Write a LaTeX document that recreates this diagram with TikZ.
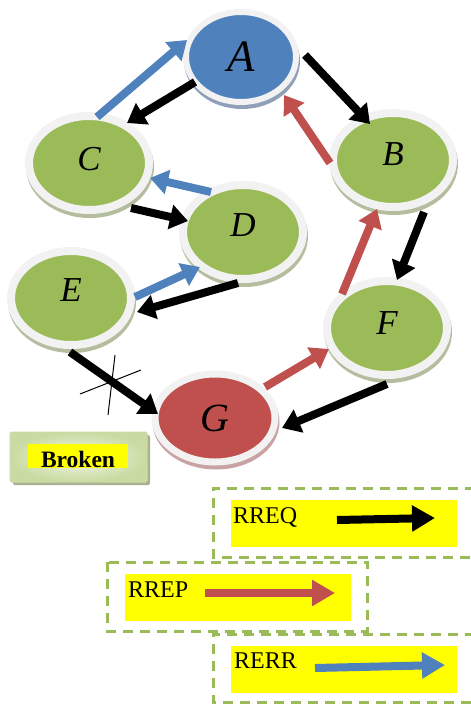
\documentclass[tikz,border=0pt]{standalone}
\usepackage{fontspec}
\setmainfont{Liberation Serif}
\usetikzlibrary{arrows.meta,shapes.geometric,shadows}
\definecolor{nblue}{HTML}{4F81BD}
\definecolor{ngreen}{HTML}{9BBB59}
\definecolor{nred}{HTML}{C0504D}
\definecolor{ring}{HTML}{F2F2F2}
\definecolor{shgreen}{HTML}{B4BE9E}
\definecolor{shblue}{HTML}{8FA0B8}
\definecolor{shred}{HTML}{C9A3A3}
\definecolor{dashgreen}{HTML}{9BBB59}
\definecolor{brokouter}{HTML}{C9DBA2}
\definecolor{brokinner}{HTML}{F3F7EA}
\definecolor{brokshadow}{HTML}{A9B192}
\definecolor{legyellow}{HTML}{FFFF00}
\begin{document}
\begin{tikzpicture}[x=1pt,y=-1pt,
  netnode/.style={ellipse, draw=ring, line width=8pt, inner sep=0pt,
    minimum width=120pt, minimum height=94pt,
    font=\fontsize{35}{35}\selectfont\itshape},
  greennode/.style={netnode, fill=ngreen,
    drop shadow={shadow xshift=1pt, shadow yshift=-4pt, fill=shgreen, draw=shgreen, line width=8pt, opacity=1}},
  conn/.style={line width=8pt, -{Triangle[length=18pt,width=24pt]}},
  blackc/.style={conn, draw=black},
  bluec/.style={conn, draw=nblue},
  redc/.style={conn, draw=nred},
  legarrow/.style={line width=8pt, -{Triangle[length=23pt,width=25pt]}},
  legbox/.style={draw=dashgreen, line width=3pt, dash pattern=on 10pt off 7pt},
  yellowbox/.style={fill=legyellow, inner sep=0pt},
  legtext/.style={inner sep=0pt, anchor=base west, font=\fontsize{24}{24}\selectfont}]
\useasboundingbox (0,0) rectangle (471,704);

% network nodes
\node[netnode, fill=nblue, line width=6pt, minimum width=110pt, minimum height=90pt,
  font=\fontsize{45}{45}\selectfont\itshape,
  drop shadow={shadow xshift=1pt, shadow yshift=-4pt, fill=shblue, draw=shblue, line width=6pt, opacity=1}]
  (A) at (241,57) {A};
\node[greennode, text depth=12pt] (B) at (393,160) {B};
\node[greennode, text depth=9pt] (C) at (89,163) {C};
\node[greennode, text depth=14pt] (D) at (243,232) {D};
\node[greennode, text depth=16pt] (E) at (71,298) {E};
\node[greennode, text depth=9pt] (F) at (387,328) {F};
\node[netnode, fill=nred, line width=7pt, minimum width=120pt, minimum height=88pt,
  font=\fontsize{40}{40}\selectfont\itshape,
  drop shadow={shadow xshift=1pt, shadow yshift=-4pt, fill=shred, draw=shred, line width=7pt, opacity=1}]
  (G) at (215,418) {G};

% connectors
\draw[bluec]  ([shift={(8,-46)}]C.center)  -- ([shift={(-54,-17)}]A.center);
\draw[blackc] ([shift={(-46,25)}]A.center) -- ([shift={(38,-40)}]C.center);
\draw[blackc] ([shift={(64,-2)}]A.center)  -- ([shift={(-23,-36)}]B.center);
\draw[redc]   ([shift={(-63,3)}]B.center)  -- ([shift={(43,38)}]A.center);
\draw[bluec]  ([shift={(-32,-40)}]D.center) -- ([shift={(61,15)}]C.center);
\draw[blackc] ([shift={(42,45)}]C.center)  -- ([shift={(-55,-11)}]D.center);
\draw[blackc] ([shift={(31,52)}]B.center)  -- ([shift={(10,-48)}]F.center);
\draw[redc]   ([shift={(-45,-34)}]F.center) -- ([shift={(-16,49)}]B.center);
\draw[bluec]  ([shift={(64,-1)}]E.center)  -- ([shift={(-43,35)}]D.center);
\draw[blackc] ([shift={(-5,51)}]D.center)  -- ([shift={(66,14)}]E.center);
\draw[blackc] ([shift={(-1,54)}]E.center)  -- ([shift={(-57,-4)}]G.center);
\draw[redc]   ([shift={(50,-31)}]G.center) -- ([shift={(-58,21)}]F.center);
\draw[blackc] ([shift={(0,56)}]F.center)   -- ([shift={(67,10)}]G.center);

% broken mark
\draw[line width=1pt] (80,394) -- (141,370);
\draw[line width=1pt] (115,355) -- (108,415);

% Broken box
\node[draw=brokouter, line width=1pt, rounded corners=1.5pt, inner sep=0pt,
  minimum width=137pt, minimum height=50pt, shading=radial,
  inner color=brokinner, outer color=brokouter,
  drop shadow={shadow xshift=3pt, shadow yshift=-3pt, fill=brokshadow, opacity=1}]
  (brokenbox) at (78.5,457) {};
\node[yellowbox, minimum width=100pt, minimum height=24pt] (brokenlabel) at (78,456) {};
\node[inner sep=0pt, anchor=base, font=\fontsize{23.5}{23.5}\selectfont\bfseries]
  (brokentext) at (78,467) {Broken};

% legend
\draw[legbox] (475,488) -| (213,557) -- (475,557);
\fill[legyellow] (231,500) rectangle (457,547);
\node[legtext] (rreq) at (233,523) {RREQ};
\draw[legarrow, draw=black] (337,520) -- (435,518);

\draw[legbox] (107,562) rectangle (367,631);
\fill[legyellow] (125,574) rectangle (351,621);
\node[legtext] (rrep) at (128,597) {RREP};
\draw[legarrow, draw=nred] (205,593) -- (335,593);

\draw[legbox] (475,634) -| (213,702) -- (475,702);
\fill[legyellow] (231,646) rectangle (457,693);
\node[legtext] (rerr) at (234,668) {RERR};
\draw[legarrow, draw=nblue] (315,668) -- (445,665);
\end{tikzpicture}
\end{document}
